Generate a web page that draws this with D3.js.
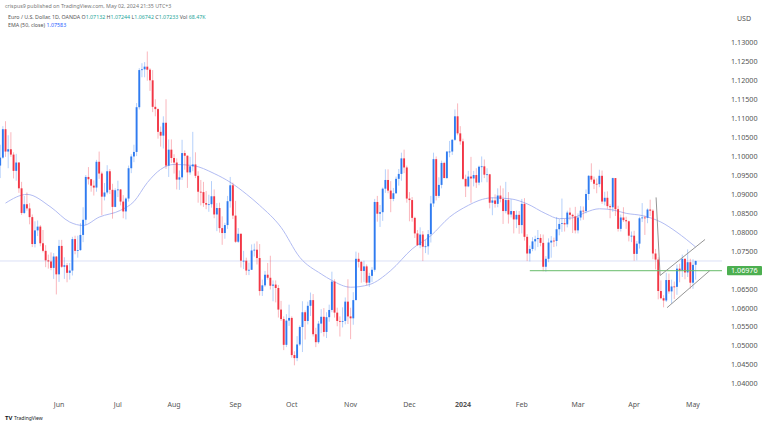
<!DOCTYPE html>
<html>
<head>
<meta charset="utf-8">
<script src="https://cdn.jsdelivr.net/npm/d3@7"></script>
<style>
  html, body { margin: 0; padding: 0; background: #fff; }
  text { font-family: "Noto Sans", "DejaVu Sans", sans-serif; }
</style>
</head>
<body>
<div id="chart"></div>
<script>
var svgWidth = 768;
var svgHeight = 427;

// EUR/USD daily bars, 1 May 2023 .. 2 May 2024 (weekdays, no 25 Dec / 1 Jan)
var opens = [
  1.1018,1.0975,1.0996,1.1071,1.1012,1.1018,1.1004,1.0961,1.0983,1.0915,1.0850,1.0873,1.0862,1.0839,1.0768,1.0804,1.0814,1.0770,1.0750,1.0725,1.0722,1.0705,1.0735,
  1.0688,1.0763,1.0708,1.0712,1.0692,1.0698,1.0781,1.0750,1.0752,1.0792,1.0832,1.0945,1.0939,1.0922,1.0917,1.0985,1.0954,1.0893,1.0904,1.0960,1.0911,1.0866,
  1.0910,1.0912,1.0880,1.0854,1.0888,1.0968,1.0999,1.1011,1.1129,1.1227,1.1229,1.1236,1.1228,1.1200,1.1130,1.1124,1.1064,1.1054,1.1088,1.0975,1.1017,
  1.0995,1.0983,1.0938,1.0944,1.1008,1.1001,1.0957,1.0973,1.0978,1.0948,1.0906,1.0905,1.0876,1.0872,1.0873,1.0894,1.0846,1.0863,1.0810,1.0797,1.0818,1.0881,1.0923,
  1.0843,1.0774,1.0795,1.0724,1.0724,1.0698,1.0700,1.0751,1.0753,1.0731,1.0644,1.0659,1.0687,1.0679,1.0658,1.0661,1.0652,1.0595,1.0570,1.0502,1.0566,
  1.0573,1.0475,1.0467,1.0503,1.0549,1.0588,1.0565,1.0605,1.0620,1.0530,1.0509,1.0558,1.0576,1.0536,1.0575,1.0594,1.0669,1.0587,1.0565,1.0563,1.0565,1.0616,
  1.0577,1.0572,1.0620,1.0729,1.0721,1.0697,1.0709,1.0666,1.0684,1.0700,1.0879,1.0848,1.0852,1.0914,1.0937,1.0909,1.0887,1.0902,1.0940,1.0953,1.0994,1.0970,
  1.0888,1.0884,1.0837,1.0796,1.0765,1.0793,1.0761,1.0762,1.0794,1.0875,1.0992,1.0895,1.0924,1.0982,1.0942,1.1012,1.1012,1.1043,1.1105,1.1060,
  1.1039,1.0940,1.0920,1.0946,1.0941,1.0950,1.0930,1.0972,1.0973,1.0951,1.0952,1.0877,1.0883,1.0874,1.0896,1.0887,1.0855,1.0884,1.0846,1.0855,1.0833,1.0845,
  1.0818,1.0874,1.0787,1.0743,1.0755,1.0775,1.0781,1.0784,1.0771,1.0708,1.0729,1.0772,1.0777,1.0776,1.0807,1.0821,1.0823,1.0820,1.0851,1.0845,1.0841,
  1.0804,1.0838,1.0856,1.0855,1.0900,1.0948,1.0938,1.0927,1.0926,1.0948,1.0880,1.0890,1.0868,1.0865,1.0942,1.0860,1.0808,1.0838,1.0831,1.0828,1.0790,
  1.0790,1.0742,1.0769,1.0836,1.0838,1.0837,1.0859,1.0856,1.0743,1.0727,1.0644,1.0625,1.0619,1.0673,1.0643,1.0656,1.0655,1.0703,1.0698,1.0729,1.0693,1.0720,
  1.0666,1.07132
];
var highs = [
  1.1032,1.1030,1.1079,1.1092,1.1055,1.1063,1.1010,1.1006,1.0984,1.0932,1.0895,1.0904,1.0876,1.0846,1.0828,1.0830,1.0818,1.0805,1.0765,1.0740,1.0746,1.0744,1.0736,
  1.0779,1.0779,1.0733,1.0718,1.0718,1.0787,1.0790,1.0790,1.0823,1.0865,1.0950,1.0971,1.0940,1.0936,1.0990,1.1012,1.0959,1.0929,1.0976,1.0966,1.0927,1.0915,
  1.0935,1.0913,1.0897,1.0891,1.0975,1.1005,1.1030,1.1140,1.1232,1.1245,1.1248,1.1276,1.1232,1.1227,1.1150,1.1126,1.1078,1.1105,1.1150,1.1044,1.1044,
  1.1005,1.0994,1.0962,1.1043,1.1015,1.1002,1.0998,1.1064,1.1010,1.0960,1.0937,1.0932,1.0908,1.0898,1.0934,1.0912,1.0876,1.0877,1.0841,1.0824,1.0895,1.0945,1.0930,
  1.0882,1.0810,1.0796,1.0750,1.0732,1.0719,1.0767,1.0769,1.0775,1.0768,1.0674,1.0697,1.0718,1.0737,1.0672,1.0672,1.0660,1.0618,1.0577,1.0583,1.0608,
  1.0577,1.0485,1.0525,1.0553,1.0617,1.0593,1.0616,1.0640,1.0636,1.0547,1.0565,1.0596,1.0599,1.0588,1.0608,1.0695,1.0675,1.0600,1.0577,1.0601,1.0627,1.0675,
  1.0600,1.0641,1.0748,1.0745,1.0723,1.0724,1.0714,1.0692,1.0707,1.0887,1.0895,1.0871,1.0917,1.0965,1.0965,1.0934,1.0916,1.0946,1.0966,1.1009,1.1017,1.0975,
  1.0905,1.0892,1.0840,1.0805,1.0812,1.0802,1.0779,1.0805,1.0895,1.1009,1.0999,1.0944,1.0988,1.0985,1.1013,1.1040,1.1045,1.1123,1.1139,1.1079,
  1.1046,1.0951,1.0961,1.0998,1.0961,1.0968,1.0975,1.0999,1.0991,1.0968,1.0953,1.0891,1.0899,1.0915,1.0922,1.0915,1.0932,1.0905,1.0886,1.0855,1.0856,1.0855,
  1.0887,1.0889,1.0794,1.0764,1.0786,1.0790,1.0805,1.0794,1.0793,1.0736,1.0783,1.0789,1.0785,1.0839,1.0834,1.0888,1.0834,1.0856,1.0864,1.0848,1.0866,
  1.0849,1.0868,1.0867,1.0912,1.0950,1.0981,1.0946,1.0941,1.0964,1.0962,1.0906,1.0907,1.0873,1.0943,1.0942,1.0869,1.0846,1.0865,1.0840,1.0830,1.0801,
  1.0803,1.0776,1.0840,1.0876,1.0843,1.0862,1.0885,1.0860,1.0755,1.0733,1.0672,1.0633,1.0692,1.0690,1.0674,1.0669,1.0714,1.0716,1.0740,1.0730,1.0754,1.0729,
  1.0728,1.07244
];
var lows = [
  1.0965,1.0942,1.0993,1.0998,1.0968,1.0998,1.0941,1.0935,1.0903,1.0845,1.0847,1.0856,1.0820,1.0760,1.0759,1.0789,1.0762,1.0746,1.0707,1.0703,1.0699,1.0676,1.0635,
  1.0668,1.0705,1.0676,1.0667,1.0674,1.0685,1.0741,1.0732,1.0750,1.0773,1.0818,1.0925,1.0906,1.0896,1.0906,1.0940,1.0844,1.0883,1.0899,1.0900,1.0835,1.0865,
  1.0892,1.0870,1.0836,1.0833,1.0880,1.0955,1.0984,1.1000,1.1123,1.1208,1.1208,1.1199,1.1172,1.1116,1.1105,1.1046,1.1025,1.1020,1.0966,1.0945,1.0982,
  1.0954,1.0912,1.0911,1.0937,1.0964,1.0916,1.0951,1.0960,1.0942,1.0877,1.0870,1.0866,1.0860,1.0853,1.0864,1.0836,1.0802,1.0798,1.0766,1.0782,1.0808,1.0864,1.0834,
  1.0771,1.0771,1.0706,1.0702,1.0686,1.0686,1.0700,1.0735,1.0714,1.0632,1.0631,1.0655,1.0674,1.0648,1.0617,1.0614,1.0574,1.0565,1.0488,1.0496,1.0552,
  1.0468,1.0448,1.0459,1.0499,1.0483,1.0516,1.0556,1.0578,1.0524,1.0496,1.0505,1.0533,1.0524,1.0520,1.0563,1.0588,1.0574,1.0551,1.0524,1.0548,1.0556,1.0557,
  1.0517,1.0555,1.0620,1.0706,1.0666,1.0668,1.0659,1.0655,1.0668,1.0695,1.0827,1.0813,1.0829,1.0903,1.0902,1.0852,1.0881,1.0900,1.0922,1.0935,1.0955,1.0877,
  1.0828,1.0827,1.0784,1.0763,1.0757,1.0723,1.0744,1.0740,1.0772,1.0866,1.0883,1.0890,1.0915,1.0942,1.0940,1.0997,1.1003,1.1040,1.1055,1.1030,
  1.0937,1.0892,1.0918,1.0877,1.0920,1.0916,1.0923,1.0931,1.0942,1.0931,1.0862,1.0844,1.0864,1.0865,1.0878,1.0821,1.0849,1.0822,1.0838,1.0796,1.0810,1.0795,
  1.0796,1.0777,1.0723,1.0722,1.0749,1.0751,1.0760,1.0762,1.0696,1.0695,1.0720,1.0732,1.0760,1.0762,1.0791,1.0800,1.0801,1.0812,1.0831,1.0797,1.0796,
  1.0796,1.0830,1.0832,1.0849,1.0884,1.0932,1.0913,1.0902,1.0918,1.0874,1.0870,1.0861,1.0836,1.0853,1.0842,1.0801,1.0801,1.0826,1.0808,1.0775,1.0773,
  1.0724,1.0725,1.0756,1.0826,1.0792,1.0823,1.0842,1.0728,1.0701,1.0622,1.0622,1.0601,1.0615,1.0637,1.0610,1.0623,1.0634,1.0667,1.0681,1.0675,1.0681,1.0650,
  1.0650,1.06742
];
var closes = [
  1.0975,1.0996,1.1071,1.1012,1.1018,1.1004,1.0961,1.0983,1.0915,1.0850,1.0873,1.0862,1.0839,1.0768,1.0804,1.0814,1.0770,1.0750,1.0725,1.0722,1.0705,1.0735,1.0688,
  1.0763,1.0708,1.0712,1.0692,1.0698,1.0781,1.0750,1.0752,1.0792,1.0832,1.0945,1.0939,1.0922,1.0917,1.0985,1.0954,1.0893,1.0904,1.0960,1.0911,1.0866,1.0910,
  1.0912,1.0880,1.0854,1.0888,1.0968,1.0999,1.1011,1.1129,1.1227,1.1229,1.1236,1.1228,1.1200,1.1130,1.1124,1.1064,1.1054,1.1088,1.0975,1.1017,1.0995,
  1.0983,1.0938,1.0944,1.1008,1.1001,1.0957,1.0973,1.0978,1.0948,1.0906,1.0905,1.0876,1.0872,1.0873,1.0894,1.0846,1.0863,1.0810,1.0797,1.0818,1.0881,1.0923,1.0843,
  1.0774,1.0795,1.0724,1.0724,1.0698,1.0700,1.0751,1.0753,1.0731,1.0644,1.0659,1.0687,1.0679,1.0658,1.0661,1.0652,1.0595,1.0570,1.0502,1.0566,1.0573,
  1.0475,1.0467,1.0503,1.0549,1.0588,1.0565,1.0605,1.0620,1.0530,1.0509,1.0558,1.0576,1.0536,1.0575,1.0594,1.0669,1.0587,1.0565,1.0563,1.0565,1.0616,1.0577,
  1.0572,1.0620,1.0729,1.0721,1.0697,1.0709,1.0666,1.0684,1.0700,1.0879,1.0848,1.0852,1.0914,1.0937,1.0909,1.0887,1.0902,1.0940,1.0953,1.0994,1.0970,1.0888,
  1.0884,1.0837,1.0796,1.0765,1.0793,1.0761,1.0762,1.0794,1.0875,1.0992,1.0895,1.0924,1.0982,1.0942,1.1012,1.1012,1.1043,1.1105,1.1060,1.1039,
  1.0940,1.0920,1.0946,1.0941,1.0950,1.0930,1.0972,1.0973,1.0951,1.0952,1.0877,1.0883,1.0874,1.0896,1.0887,1.0855,1.0884,1.0846,1.0855,1.0833,1.0845,1.0818,
  1.0874,1.0787,1.0743,1.0755,1.0775,1.0781,1.0784,1.0771,1.0708,1.0729,1.0772,1.0777,1.0776,1.0807,1.0821,1.0823,1.0820,1.0851,1.0845,1.0841,1.0804,
  1.0838,1.0856,1.0855,1.0900,1.0948,1.0938,1.0927,1.0926,1.0948,1.0880,1.0890,1.0868,1.0865,1.0942,1.0860,1.0808,1.0838,1.0831,1.0828,1.0790,1.0790,
  1.0742,1.0769,1.0836,1.0838,1.0837,1.0859,1.0856,1.0743,1.0727,1.0644,1.0625,1.0619,1.0673,1.0643,1.0656,1.0655,1.0703,1.0698,1.0729,1.0693,1.0720,1.0666,
  1.0713,1.07233
];

// moving average at some bars (bar index, value)
var maIndex = [3, 11, 20, 27, 32, 38, 46, 51, 56, 61, 66, 73, 81, 87, 93, 98, 106, 113, 121, 125, 132, 139, 147, 155, 162, 169, 176, 180, 185, 192, 198, 205, 210, 215, 220, 225, 230, 235, 241, 248, 254, 261];
var maValues = [1.0876, 1.0899, 1.0865, 1.0826, 1.0817, 1.0839, 1.0857, 1.0880, 1.0930, 1.0965, 1.0978, 1.0975, 1.0954, 1.0931, 1.0900, 1.0870, 1.0812, 1.0733, 1.0689, 1.0672, 1.0654, 1.0661, 1.0698, 1.0755, 1.0790, 1.0839, 1.0870, 1.0883, 1.0890, 1.0887, 1.0874, 1.0848, 1.0835, 1.0837, 1.0852, 1.0861, 1.0858, 1.0849, 1.0843, 1.0826, 1.0799, 1.0760];

var priceTicks = [1.13, 1.125, 1.12, 1.115, 1.11, 1.105, 1.10, 1.095, 1.09, 1.085, 1.08, 1.075, 1.07, 1.065, 1.06, 1.055, 1.05, 1.045, 1.04];
var monthLabels = ["Jun", "Jul", "Aug", "Sep", "Oct", "Nov", "Dec", "2024", "Feb", "Mar", "Apr", "May"];

// drawings
var supportLevel = 1.06976;
var supportFrom = 199;
var channelUpper = [[246.2, 1.0891], [247.7, 1.0685], [264.5, 1.0780]];
var channelLower = [[250.3, 1.0600], [266.3, 1.0698]];

// trading days
var holidays = ["2023-12-25", "2024-01-01"];
var fmtDay = d3.timeFormat("%Y-%m-%d");
var dates = d3.timeDay.range(new Date(2023, 4, 1), new Date(2024, 4, 3))
  .filter(d => d.getDay() !== 0 && d.getDay() !== 6 && holidays.indexOf(fmtDay(d)) < 0);

var bars = dates.map((d, i) => ({
  date: d, i: i, o: opens[i], h: highs[i], l: lows[i], c: closes[i]
}));

var plotRight = 722;

var x = d3.scaleLinear()
  .domain([0, bars.length - 1])
  .range([-2.5, -2.5 + (bars.length - 1) * 2.675]);

var y = d3.scaleLinear()
  .domain([1.04, 1.13])
  .range([383.5, 42.4]);

var svg = d3.select("#chart").append("svg")
  .attr("width", svgWidth)
  .attr("height", svgHeight)
  .style("display", "block");

svg.append("rect")
  .attr("width", svgWidth)
  .attr("height", svgHeight)
  .attr("fill", "#fff");

svg.append("clipPath")
  .attr("id", "plotClip")
  .append("rect")
  .attr("x", 0)
  .attr("y", 0)
  .attr("width", plotRight)
  .attr("height", 392);

var plot = svg.append("g").attr("clip-path", "url(#plotClip)");

// last price line
var lastClose = closes[closes.length - 1];
plot.append("line")
  .attr("x1", 0)
  .attr("x2", plotRight)
  .attr("y1", y(lastClose))
  .attr("y2", y(lastClose))
  .attr("stroke", "#dce0f6")
  .attr("stroke-width", 1);

// moving average
var maLine = d3.line()
  .x((d, i) => x(maIndex[i]))
  .y(d => y(d))
  .curve(d3.curveMonotoneX);

plot.append("path")
  .datum(maValues)
  .attr("d", maLine)
  .attr("fill", "none")
  .attr("stroke", "#b2bcf3")
  .attr("stroke-width", 1);

// candles
var upColor = "#2f7bf0";
var downColor = "#f23645";
var bodyW = 1.9;

var candle = plot.selectAll(".candle")
  .data(bars)
  .enter()
  .append("g")
  .classed("candle", true);

candle.append("line")
  .attr("x1", d => x(d.i))
  .attr("x2", d => x(d.i))
  .attr("y1", d => y(d.h))
  .attr("y2", d => y(d.l))
  .attr("stroke", d => d.c >= d.o ? upColor : downColor)
  .attr("stroke-opacity", 0.45)
  .attr("stroke-width", 0.8);

candle.append("rect")
  .attr("x", d => x(d.i) - bodyW / 2)
  .attr("y", d => y(Math.max(d.o, d.c)))
  .attr("width", bodyW)
  .attr("height", d => Math.max(0.8, Math.abs(y(d.o) - y(d.c))))
  .attr("fill", d => d.c >= d.o ? upColor : downColor);

// support line
plot.append("line")
  .attr("x1", x(supportFrom))
  .attr("x2", plotRight + 6)
  .attr("y1", y(supportLevel))
  .attr("y2", y(supportLevel))
  .attr("stroke", "#66bb6a")
  .attr("stroke-width", 1);

// channel
var drawLine = d3.line().x(d => x(d[0])).y(d => y(d[1]));
[channelUpper, channelLower].forEach(function(pts) {
  plot.append("path")
    .attr("d", drawLine(pts))
    .attr("fill", "none")
    .attr("stroke", "#959595")
    .attr("stroke-width", 1);
});

// price axis
var yAxis = d3.axisRight(y)
  .tickValues(priceTicks)
  .tickSize(0)
  .tickPadding(6)
  .tickFormat(d3.format(".5f"));

var yAxisG = svg.append("g")
  .attr("transform", `translate(725, 0)`)
  .call(yAxis);
yAxisG.select(".domain").remove();
yAxisG.selectAll("text")
  .attr("fill", "#555")
  .style("font-size", "7.2px")
  .style("font-family", "'Noto Sans', sans-serif");

// support level tag
var tagY = y(supportLevel);
svg.append("rect")
  .attr("x", 727)
  .attr("y", tagY - 4.6)
  .attr("width", 35)
  .attr("height", 9.2)
  .attr("rx", 1)
  .attr("fill", "#4caf50");
svg.append("text")
  .attr("x", 731)
  .attr("y", tagY)
  .attr("dy", "0.34em")
  .attr("fill", "#fff")
  .style("font-size", "7.2px")
  .text(d3.format(".5f")(supportLevel));

svg.append("text")
  .attr("x", 737)
  .attr("y", 21)
  .attr("fill", "#555")
  .style("font-size", "7px")
  .text("USD");

// month labels
var monthStarts = [];
bars.forEach(function(d, i) {
  if (i > 0 && d.date.getMonth() !== bars[i - 1].date.getMonth()) monthStarts.push(i);
});

svg.append("g")
  .selectAll("text")
  .data(monthStarts)
  .enter()
  .append("text")
  .attr("x", d => x(d))
  .attr("y", 406.5)
  .attr("text-anchor", "middle")
  .attr("fill", "#555")
  .style("font-size", "7px")
  .style("font-weight", (d, i) => monthLabels[i] === "2024" ? "bold" : "normal")
  .text((d, i) => monthLabels[i]);

// header
svg.append("text")
  .attr("x", 5)
  .attr("y", 8)
  .attr("fill", "#777")
  .style("font-size", "5.3px")
  .text("crispus9 published on TradingView.com, May 02, 2024 21:35 UTC+3");

var legend = svg.append("text")
  .attr("x", 8)
  .attr("y", 19.3)
  .style("font-size", "5.3px")
  .attr("fill", "#555");
legend.append("tspan").text("Euro / U.S. Dollar, 1D, OANDA  ");
[["O", opens], ["H", highs], ["L", lows], ["C", closes]].forEach(function(p) {
  legend.append("tspan").attr("fill", "#555").text(p[0]);
  legend.append("tspan").attr("fill", "#26a69a").text(p[1][p[1].length - 1].toFixed(5) + "  ");
});
legend.append("tspan").attr("fill", "#555").text("Vol ");
legend.append("tspan").attr("fill", "#26a69a").text("68.47K");

var maText = svg.append("text")
  .attr("x", 8)
  .attr("y", 26.8)
  .style("font-size", "5.3px")
  .attr("fill", "#555");
maText.append("tspan").text("EMA (50, close)  ");
maText.append("tspan").attr("fill", "#2962ff").text("1.07583");

// footer logo
var logo = svg.append("g").attr("transform", "translate(5, 418)");
logo.append("text")
  .attr("x", 0)
  .attr("y", 2)
  .style("font-size", "6px")
  .style("font-weight", "bold")
  .attr("fill", "#131722")
  .text("TV");
logo.append("text")
  .attr("x", 9)
  .attr("y", 2)
  .style("font-size", "5px")
  .attr("fill", "#131722")
  .text("TradingView");
</script>
</body>
</html>
